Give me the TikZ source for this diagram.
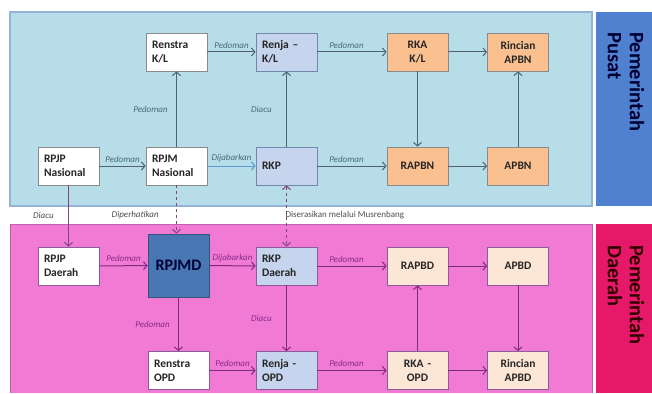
\documentclass[tikz,border=0pt]{standalone}
\usepackage{fontspec}
\setmainfont{Carlito}
\usetikzlibrary{arrows.meta}

\definecolor{panelblue}{HTML}{B7DDE8}
\definecolor{paneledge}{HTML}{95B3D7}
\definecolor{pusatblue}{HTML}{4F81D0}
\definecolor{panelpink}{HTML}{F07AD4}
\definecolor{daerahred}{HTML}{E5186A}
\definecolor{lavblue}{HTML}{C6D4EE}
\definecolor{lavedge}{HTML}{7088AC}
\definecolor{orangefill}{HTML}{FAC090}
\definecolor{creamfill}{HTML}{FCE6D6}
\definecolor{boxgray}{HTML}{8A8A8A}
\definecolor{purpleedge}{HTML}{8E5A9E}
\definecolor{rpjmdblue}{HTML}{4877B4}
\definecolor{arrowgray}{HTML}{4F6272}
\definecolor{arrowlight}{HTML}{5B9BD5}
\definecolor{arrowpurple}{HTML}{7D2C7D}
\definecolor{lbltop}{HTML}{4B6A7A}
\definecolor{lblbot}{HTML}{8B2A8B}

\tikzset{
  >={Straight Barb[length=3.5pt,width=8pt]},
  box/.style={draw=boxgray, line width=0.8pt, minimum width=61pt, minimum height=38pt,
    text width=49pt, inner xsep=6pt, align=left, text=black!85,
    font=\fontsize{11.5}{14}\selectfont\bfseries},
  whitebox/.style={box, fill=white},
  lavbox/.style={box, fill=lavblue, draw=lavedge},
  orangebox/.style={box, fill=orangefill, align=center},
  creambox/.style={box, fill=creamfill, draw=purpleedge, align=center},
  rpjmdbox/.style={box, fill=rpjmdblue, draw=rpjmdblue!70!black, minimum height=63pt,
    align=center, text=black!80!blue, font=\fontsize{16}{18}\selectfont\bfseries},
  lbl/.style={font=\fontsize{9}{10}\selectfont\itshape},
  toparrow/.style={->, draw=arrowgray, line width=1pt},
  botarrow/.style={->, draw=arrowpurple, line width=1pt},
  sidelabel/.style={rotate=-90, anchor=west, align=left, inner sep=0pt,
    font=\fontsize{20.5}{22}\selectfont\bfseries}
}

\begin{document}
\begin{tikzpicture}[x=1pt,y=-1pt]
  \useasboundingbox (0,0) rectangle (652,393);

  % panels
  \draw[fill=panelblue, draw=paneledge, line width=1.5pt] (10,12) rectangle (592,206);
  \fill[pusatblue] (596,12) rectangle (652,206);
  \fill[panelpink] (10,224) rectangle (592,393);
  \draw[panelpink!80!black, line width=0.8pt] (10,393) -- (10,224) -- (592,224) -- (592,393);
  \fill[daerahred] (596,224) rectangle (652,393);
  \node[sidelabel, text=black!80!blue] (pusat) at (626,32) {Pemerintah\\Pusat};
  \node[sidelabel, text=black!80!red] (daerah) at (626,245) {Pemerintah\\Daerah};

  % pusat
  \node[whitebox] (renstrakl) at (176.5,52) {Renstra\\K/L};
  \node[lavbox] (renjakl) at (286.5,52) {Renja –\\K/L};
  \node[orangebox] (rkakl) at (417.5,52) {RKA\\K/L};
  \node[orangebox] (rincianapbn) at (518,52) {Rincian\\APBN};
  \node[whitebox] (rpjpnas) at (68.5,166) {RPJP\\Nasional};
  \node[whitebox] (rpjmnas) at (176.5,166) {RPJM\\Nasional};
  \node[lavbox] (rkp) at (286.5,166) {RKP};
  \node[orangebox] (rapbn) at (417.5,166) {RAPBN};
  \node[orangebox] (apbn) at (518,166) {APBN};

  % daerah
  \node[whitebox, draw=purpleedge] (rpjpdaerah) at (68.5,266) {RPJP\\Daerah};
  \node[rpjmdbox] (rpjmd) at (178.5,265.5) {RPJMD};
  \node[lavbox, draw=purpleedge] (rkpdaerah) at (286.5,266) {RKP\\Daerah};
  \node[creambox] (rapbd) at (417.5,266) {RAPBD};
  \node[creambox] (apbd) at (518,266) {APBD};
  \node[whitebox, draw=purpleedge] (renstraopd) at (178.5,370.5) {Renstra\\OPD};
  \node[lavbox, draw=purpleedge] (renjaopd) at (286.5,370.5) {Renja -\\OPD};
  \node[creambox] (rkaopd) at (417.5,370.5) {RKA -\\OPD};
  \node[creambox] (rincianapbd) at (518,370.5) {Rincian\\APBD};

  \draw[toparrow] (renstrakl) -- node[lbl, text=lbltop, above] {Pedoman} (renjakl);
  \draw[toparrow] (renjakl) -- node[lbl, text=lbltop, above, pos=0.42] {Pedoman} (rkakl);
  \draw[toparrow] (rkakl) -- (rincianapbn);
  \draw[toparrow] (rpjmnas) -- node[lbl, text=lbltop, left=5pt] {Pedoman} (renstrakl);
  \draw[toparrow] (rkp) -- node[lbl, text=lbltop, left=11pt] {Diacu} (renjakl);
  \draw[toparrow] (rpjpnas) -- node[lbl, text=lbltop, above] {Pedoman} (rpjmnas);
  \draw[->, draw=arrowlight, line width=1pt] (rpjmnas) -- node[lbl, text=lbltop, above] {Dijabarkan} (rkp);
  \draw[toparrow] (rkp) -- node[lbl, text=lbltop, above, pos=0.42] {Pedoman} (rapbn);
  \draw[toparrow] (rkakl) -- (rapbn);
  \draw[toparrow] (rapbn) -- (apbn);
  \draw[toparrow] (apbn) -- (rincianapbn);

  % pusat ke daerah
  \draw[->, draw=arrowpurple!70!gray, line width=1pt] (rpjpnas) -- node[lbl, text=black!70, left=11pt, pos=0.49] {Diacu} (rpjpdaerah);
  \draw[->, draw=arrowpurple!70!gray, line width=1pt, dashed] (rpjmnas.south) -- node[lbl, text=black!70, left=14pt, pos=0.62] {Diperhatikan} (rpjmnas.south |- rpjmd.north);
  \draw[<->, draw=arrowpurple!70!gray, line width=1pt, dashed] (rkp) -- node[anchor=west, inner sep=0pt, xshift=-1.5pt, pos=0.49, text=black!70, font=\fontsize{9}{10}\selectfont] {Diserasikan melalui Musrenbang} (rkpdaerah);

  \draw[botarrow] (rpjpdaerah) -- node[lbl, text=lblbot, above] {Pedoman} (rpjmd);
  \draw[botarrow] (rpjmd) -- node[lbl, text=lblbot, above] {Dijabarkan} (rkpdaerah);
  \draw[botarrow] (rkpdaerah) -- node[lbl, text=lblbot, above, pos=0.42] {Pedoman} (rapbd);
  \draw[botarrow] (rapbd) -- (apbd);
  \draw[botarrow] (rpjmd) -- node[lbl, text=lblbot, left=5pt] {Pedoman} (renstraopd);
  \draw[botarrow] (rkpdaerah) -- node[lbl, text=lblbot, left=11pt] {Diacu} (renjaopd);
  \draw[botarrow] (renstraopd) -- node[lbl, text=lblbot, above] {Pedoman} (renjaopd);
  \draw[botarrow] (renjaopd) -- node[lbl, text=lblbot, above, pos=0.42] {Pedoman} (rkaopd);
  \draw[botarrow] (rkaopd) -- (rapbd);
  \draw[botarrow] (rkaopd) -- (rincianapbd);
  \draw[botarrow] (apbd) -- (rincianapbd);
\end{tikzpicture}
\end{document}
